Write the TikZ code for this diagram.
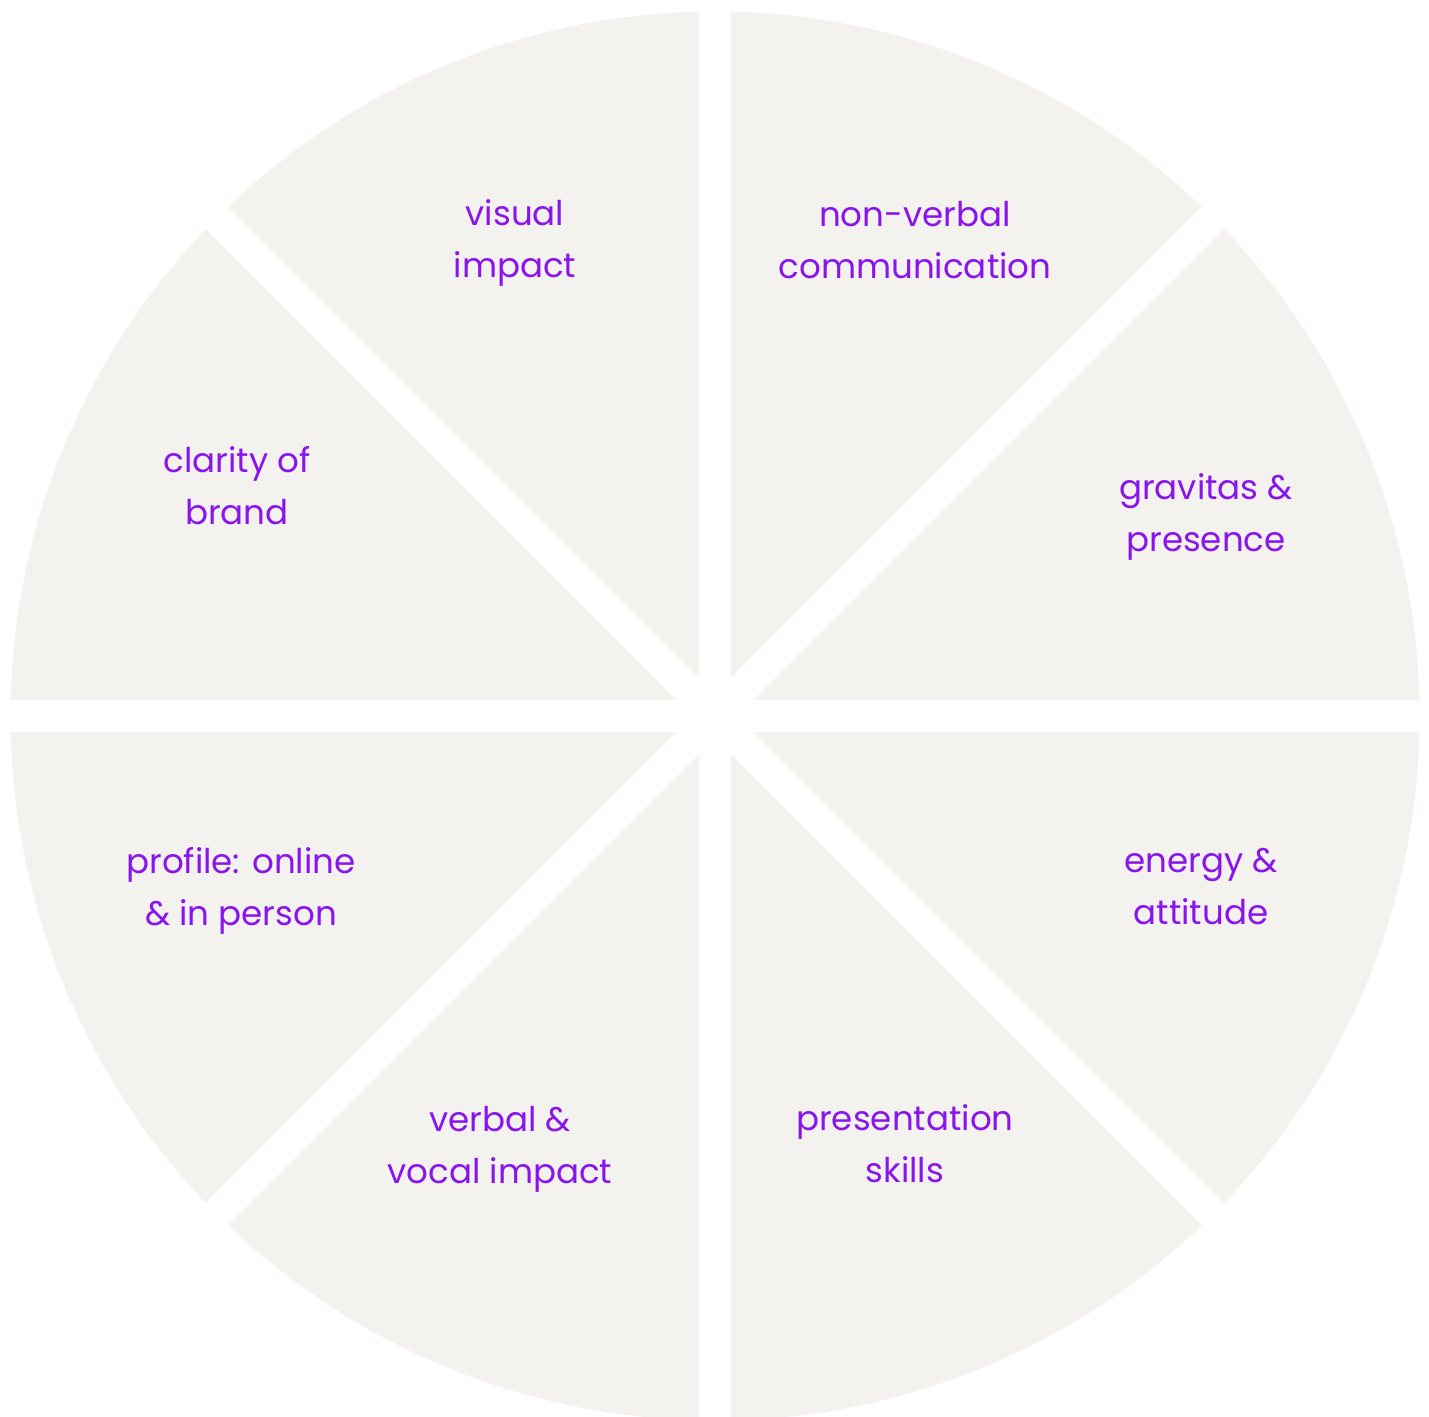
\documentclass[tikz,border=0pt]{standalone}
\usepackage{fontspec}
\setmainfont{Poppins}
\usetikzlibrary{positioning}

\definecolor{slicegray}{HTML}{F3F2EF}
\definecolor{labelpurple}{HTML}{8A14EC}

\begin{document}
\begin{tikzpicture}
\pgfmathsetmacro{\R}{7.045}
\pgfmathsetmacro{\G}{0.16}
\pgfmathsetmacro{\A}{\G/sin(22.5)}
\pgfmathsetmacro{\D}{asin(\G/\R)}

\tikzset{
  slice/.style={fill=slicegray, draw=none},
  label/.style={align=center, text=labelpurple,
  font=\fontsize{9.7}{14.8}\selectfont, inner sep=0pt},
}

\useasboundingbox (-7.15,-7.00) rectangle (7.14,7.16);

% eight wedges, kept apart by the white bands
\fill[slice] (22.5:\A) -- (0+\D:\R) arc[start angle=0+\D, end angle=45-\D, radius=\R cm] -- cycle;
\fill[slice] (67.5:\A) -- (45+\D:\R) arc[start angle=45+\D, end angle=90-\D, radius=\R cm] -- cycle;
\fill[slice] (112.5:\A) -- (90+\D:\R) arc[start angle=90+\D, end angle=135-\D, radius=\R cm] -- cycle;
\fill[slice] (157.5:\A) -- (135+\D:\R) arc[start angle=135+\D, end angle=180-\D, radius=\R cm] -- cycle;
\fill[slice] (202.5:\A) -- (180+\D:\R) arc[start angle=180+\D, end angle=225-\D, radius=\R cm] -- cycle;
\fill[slice] (247.5:\A) -- (225+\D:\R) arc[start angle=225+\D, end angle=270-\D, radius=\R cm] -- cycle;
\fill[slice] (292.5:\A) -- (270+\D:\R) arc[start angle=270+\D, end angle=315-\D, radius=\R cm] -- cycle;
\fill[slice] (337.5:\A) -- (315+\D:\R) arc[start angle=315+\D, end angle=360-\D, radius=\R cm] -- cycle;

\node[label] (visual) at (-2.00, 4.73) {visual\\impact};
\node[label] (nonverbal) at (2.00, 4.76) {non-verbal\\communication};
\node[label] (gravitas) at (4.91, 1.99) {gravitas \&\\presence};
\node[label] (energy) at (4.86, -1.71) {energy \&\\attitude};
\node[label] (presentation) at (1.90, -4.28) {presentation\\skills};
\node[label] (verbal) at (-2.15, -4.33) {verbal \&\\vocal impact};
\node[label] (profile) at (-4.74, -1.75) {profile: online\\\& in person};
\node[label] (clarity) at (-4.78, 2.30) {clarity of\\brand};
\end{tikzpicture}
\end{document}
